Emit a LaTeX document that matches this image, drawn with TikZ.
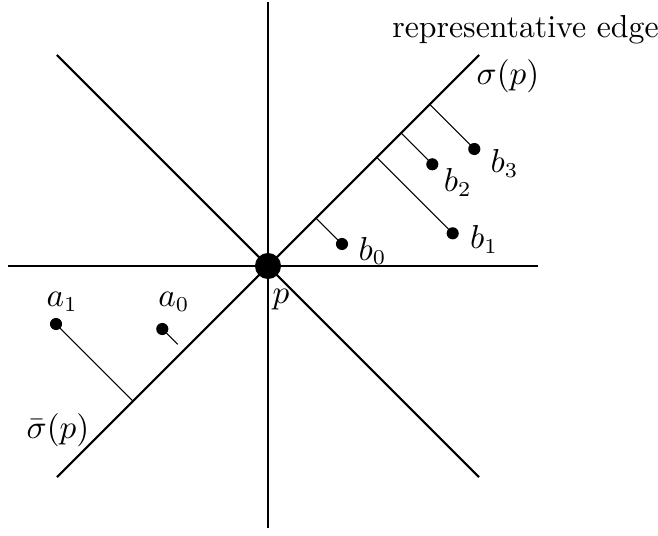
\documentclass[tikz,border=0pt]{standalone}
\usetikzlibrary{calc}

\begin{document}
\begin{tikzpicture}[
  x=0.33pt, y=0.33pt,
  font=\fontsize{10.5}{12.6}\selectfont,
  axis/.style={line width=0.7pt, black},
  perp/.style={line width=0.35pt, black},
  dot/.style={circle, fill=black, inner sep=0pt, minimum size=4pt},
  pdot/.style={circle, fill=black, inner sep=0pt, minimum size=8.6pt},
  lbl/.style={inner sep=0pt, anchor=base west}
]
\useasboundingbox (-268,-270) rectangle (390,266);
% the four lines through p
\coordinate (n) at (0,264);
\coordinate (s) at (0,-262);
\coordinate (w) at (-260,0);
\coordinate (e) at (270,0);
\coordinate (ne) at (211,211);
\coordinate (sw) at (-211,-211);
\coordinate (nw) at (-211,211);
\coordinate (se) at (211,-211);
\draw[axis] (n) -- (s);
\draw[axis] (w) -- (e);
\draw[axis] (sw) -- (ne);
\draw[axis] (nw) -- (se);
\node[pdot] (p) at (0,0) {};
% points b_i and their feet on sigma(p)
\node[dot] (b0) at (74,22) {};
\node[dot] (b1) at (184.7,32.7) {};
\node[dot] (b2) at (164.3,101.7) {};
\node[dot] (b3) at (206.3,117) {};
\coordinate (f0) at (48,48);
\coordinate (f1) at (108.7,108.7);
\coordinate (f2) at (133,133);
\coordinate (f3) at (161.7,161.7);
\draw[perp] (b0.center) -- (f0);
\draw[perp] (b1.center) -- (f1);
\draw[perp] (b2.center) -- (f2);
\draw[perp] (b3.center) -- (f3);
% points a_i on the other side
\node[dot] (a1) at (-212,-58) {};
\node[dot] (a0) at (-105.7,-63) {};
\coordinate (g1) at (-135,-135);
\coordinate (g0) at ($(a0)!0.72!(-84.35,-84.35)$);
\draw[perp] (a1.center) -- (g1);
\draw[perp] (a0.center) -- (g0);
% labels
\node[lbl, anchor=base] (rep) at (257.5,228.3) {representative edge};
\node[lbl, anchor=base] (sig) at (240,181) {$\sigma(p)$};
\node[lbl, anchor=base] (sigbar) at (-210,-172.5) {$\bar\sigma(p)$};
\node[lbl, anchor=base] (plbl) at (13,-37) {$p$};
\node[lbl] (lb0) at (90,6) {$b_0$};
\node[lbl] (lb1) at (201.5,17.5) {$b_1$};
\node[lbl] (lb2) at (175.3,74.3) {$b_2$};
\node[lbl] (lb3) at (222,93.3) {$b_3$};
\node[lbl] (la1) at (-222,-40.7) {$a_1$};
\node[lbl] (la0) at (-110.3,-40.7) {$a_0$};
\end{tikzpicture}
\end{document}
